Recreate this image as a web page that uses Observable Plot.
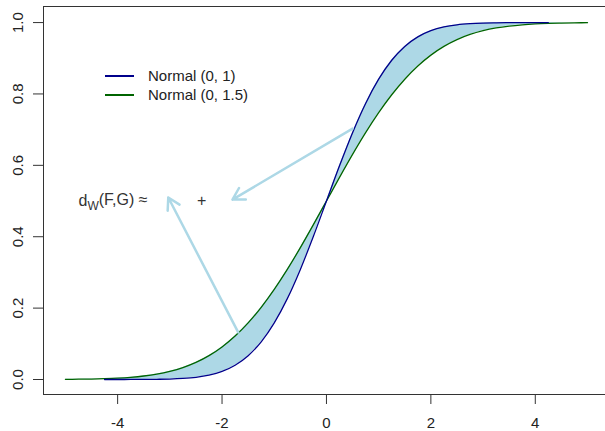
<!DOCTYPE html>
<html>
<head>
<meta charset="utf-8">
<script src="https://cdn.jsdelivr.net/npm/d3@7"></script>
<script src="https://cdn.jsdelivr.net/npm/@observablehq/plot@0.6"></script>
<style>
  html, body { margin: 0; padding: 0; background: #fff; overflow: hidden; }
  #wrap { position: relative; width: 605px; height: 431px; font-family: "Liberation Sans", Arial, sans-serif; }
  .legend { position: absolute; left: 105px; top: 66px; font-size: 15px; color: #222; line-height: 19px; }
  .legend .row { display: flex; align-items: center; height: 19px; }
  .legend .sw { width: 29px; height: 2px; margin-right: 14px; }
</style>
</head>
<body>
<div id="wrap"></div>
<script>
// x grid
const xs = [-5, -4.75, -4.5, -4.25, -4, -3.75, -3.5, -3.25, -3, -2.75, -2.5, -2.25, -2, -1.75, -1.5, -1.25, -1, -0.75, -0.5, -0.25, 0,
  0.25, 0.5, 0.75, 1, 1.25, 1.5, 1.75, 2, 2.25, 2.5, 2.75, 3, 3.25, 3.5, 3.75, 4, 4.25, 4.5, 4.75, 5];
// CDF of Normal(0, 1)
const cdfN1 = [0, 0, 0, 0, 0, 0.0001, 0.0002, 0.0006, 0.0013, 0.0030, 0.0062, 0.0122, 0.0228, 0.0401, 0.0668, 0.1056, 0.1587, 0.2266, 0.3085, 0.4013, 0.5,
  0.5987, 0.6915, 0.7734, 0.8413, 0.8944, 0.9332, 0.9599, 0.9772, 0.9878, 0.9938, 0.9970, 0.9987, 0.9994, 0.9998, 0.9999, 1, 1, 1, 1, 1];
// CDF of Normal(0, 1.5)
const cdfN15 = [0.0004, 0.0008, 0.0013, 0.0023, 0.0038, 0.0062, 0.0098, 0.0151, 0.0228, 0.0334, 0.0478, 0.0668, 0.0912, 0.1217, 0.1587, 0.2023, 0.2525, 0.3085, 0.3694, 0.4338, 0.5,
  0.5662, 0.6306, 0.6915, 0.7475, 0.7977, 0.8413, 0.8783, 0.9088, 0.9332, 0.9522, 0.9666, 0.9772, 0.9849, 0.9902, 0.9938, 0.9962, 0.9977, 0.9987, 0.9992, 0.9996];

const seriesNames = ["Normal (0, 1)", "Normal (0, 1.5)"];
const seriesColors = ["#00008B", "#006400"];

const xTicks = [-4, -2, 0, 2, 4];
const yTicks = [0, 0.2, 0.4, 0.6, 0.8, 1.0];

// annotation (data coordinates)
const labelText = ["d", "W", "(F,G) ≈"];
const labelPos = {x: -4.75, y: 0.5};
const plusPos = {x: -2.39, y: 0.5};
const arrows = [
  {x1: 0.50, y1: 0.703, x2: -1.80, y2: 0.504},
  {x1: -1.69, y1: 0.132, x2: -3.03, y2: 0.510}
];

const rows = xs.map((x, i) => ({x, a: cdfN1[i], b: cdfN15[i]}));
const xDom = [-5.42, 5.345];
const yDom = [-0.042, 1.045];

const plot = Plot.plot({
  width: 605,
  height: 431,
  marginLeft: 43,
  marginRight: 0,
  marginTop: 6,
  marginBottom: 37,
  style: {fontFamily: "Liberation Sans, Arial, sans-serif", fontSize: "15px", color: "#222", background: "#fff"},
  x: {domain: xDom, ticks: xTicks},
  y: {domain: yDom, ticks: yTicks},
  marks: [
    Plot.areaY(rows, {x: "x", y1: "a", y2: "b", fill: "#ADD8E6", curve: "monotone-x"}),
    Plot.line(rows, {x: "x", y: "b", stroke: seriesColors[1], strokeWidth: 1.3, curve: "monotone-x"}),
    Plot.line(rows.filter(d => Math.abs(d.x) <= 4.25), {x: "x", y: "a", stroke: seriesColors[0], strokeWidth: 1.3, curve: "monotone-x"}),
    Plot.arrow(arrows, {x1: "x1", y1: "y1", x2: "x2", y2: "y2", stroke: "#ADD8E6", strokeWidth: 2.5, headLength: 8}),
    Plot.text([labelPos], {x: "x", y: "y", text: () => labelText.join(""), textAnchor: "start", fontSize: 16, fill: "#333", className: "dw-label"}),
    Plot.text([plusPos], {x: "x", y: "y", text: () => "+", fontSize: 16, fill: "#333"}),
    Plot.ruleX([xDom[0]], {stroke: "#333", strokeWidth: 1}),
    Plot.ruleY([yDom[0], yDom[1]], {stroke: "#333", strokeWidth: 1}),
    Plot.axisX({ticks: xTicks, tickSize: 10, tickPadding: 13, fontSize: 15, stroke: "#333", fill: "#222", tickFormat: d => d < 0 ? "-" + Math.abs(d) : String(d)}),
    Plot.axisY({ticks: yTicks, tickSize: 10, tickPadding: 11, tickRotate: -90, fontSize: 15, stroke: "#333", fill: "#222", tickFormat: d => d.toFixed(1)})
  ]
});

document.getElementById("wrap").appendChild(plot);

// subscript in the annotation label
d3.select(plot).selectAll("g.dw-label text").each(function() {
  const t = d3.select(this);
  t.text(null);
  t.append("tspan").text(labelText[0]);
  t.append("tspan").attr("dy", "0.3em").attr("font-size", "12px").text(labelText[1]);
  t.append("tspan").attr("dy", "-0.3em").text(labelText[2]);
});

// legend
const legend = document.createElement("div");
legend.className = "legend";
seriesNames.forEach((name, i) => {
  const row = document.createElement("div");
  row.className = "row";
  const sw = document.createElement("span");
  sw.className = "sw";
  sw.style.background = seriesColors[i];
  const lab = document.createElement("span");
  lab.textContent = name;
  row.appendChild(sw);
  row.appendChild(lab);
  legend.appendChild(row);
});
document.getElementById("wrap").appendChild(legend);
</script>
</body>
</html>
